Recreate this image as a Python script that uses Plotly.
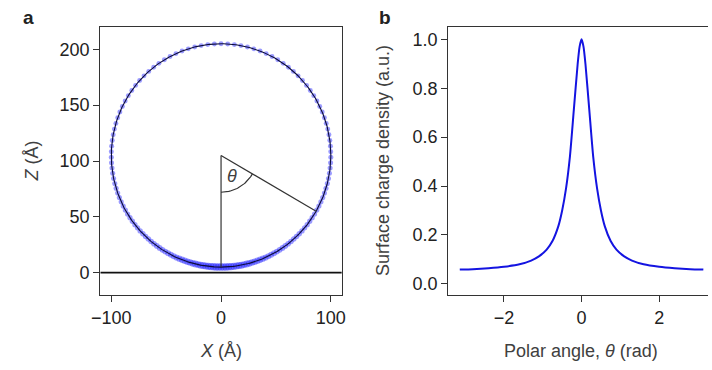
import numpy as np
import plotly.graph_objects as go

# ---------------- data ----------------
# Panel a: sphere geometry (Å)
sphere_center_x = 0.0
sphere_center_z = 105.0
sphere_radius = 100.0
n_nodes = 150                 # boundary mesh nodes
mesh_grading = 0.45           # node refinement towards the contact point
theta_example_deg = 60.0      # angle drawn in the sketch
arc_radius = 33.0

# Panel b: surface charge density vs polar angle
theta_rad = [-3.14, -2.8, -2.4, -2.0, -1.6, -1.3, -1.1, -0.9, -0.75, -0.6, -0.5,
             -0.4, -0.3, -0.2, -0.1, -0.05, 0.0,
             0.05, 0.1, 0.2, 0.3, 0.4, 0.5, 0.6, 0.75, 0.9, 1.1, 1.3, 1.6,
             2.0, 2.4, 2.8, 3.14]
charge_density = [0.058, 0.060, 0.064, 0.070, 0.080, 0.095, 0.112, 0.140, 0.175, 0.235, 0.300,
                  0.390, 0.520, 0.710, 0.900, 0.970, 1.000,
                  0.970, 0.900, 0.710, 0.520, 0.390, 0.300, 0.235, 0.175, 0.140, 0.112, 0.095, 0.080,
                  0.070, 0.064, 0.060, 0.058]

a_xticks = [-100, 0, 100]
a_yticks = [0, 50, 100, 150, 200]
b_xticks = [-2, 0, 2]
b_yticks = [0.0, 0.2, 0.4, 0.6, 0.8, 1.0]

# ---------------- geometry ----------------
u = np.linspace(-np.pi, np.pi, n_nodes, endpoint=False)
phi_nodes = u - mesh_grading * np.sin(u)          # angle from downward direction
node_x = sphere_center_x + sphere_radius * np.sin(phi_nodes)
node_z = sphere_center_z - sphere_radius * np.cos(phi_nodes)
node_density = np.interp(phi_nodes, theta_rad, charge_density)
node_size = 4.0 + 3.5 * np.sqrt(node_density)

phi_line = np.linspace(0, 2 * np.pi, 400)
circ_x = sphere_center_x + sphere_radius * np.sin(phi_line)
circ_z = sphere_center_z - sphere_radius * np.cos(phi_line)

th = np.deg2rad(theta_example_deg)
end_x = sphere_center_x + sphere_radius * np.sin(th)
end_z = sphere_center_z - sphere_radius * np.cos(th)
phi_arc = np.linspace(0, th, 40)
arc_x = sphere_center_x + arc_radius * np.sin(phi_arc)
arc_z = sphere_center_z - arc_radius * np.cos(phi_arc)

# ---------------- figure ----------------
FONT = "Liberation Sans, Arial, Helvetica, sans-serif"
AX = "#333333"
TICKC = "#222222"
TITLEC = "#404040"
BLUE = "rgb(20,20,225)"
FS = 18

fig = go.Figure()

# panel a
fig.add_trace(go.Scatter(x=[-110, 110], y=[0, 0], mode="lines",
                         line=dict(color="#111111", width=1.6),
                         xaxis="x", yaxis="y", showlegend=False, hoverinfo="skip"))
fig.add_trace(go.Scatter(x=node_x, y=node_z, mode="markers",
                         marker=dict(color="rgba(25,25,255,0.62)", size=node_size, line=dict(width=0)),
                         xaxis="x", yaxis="y", showlegend=False))
fig.add_trace(go.Scatter(x=circ_x, y=circ_z, mode="lines",
                         line=dict(color="#0c0c3a", width=1.1),
                         xaxis="x", yaxis="y", showlegend=False, hoverinfo="skip"))
fig.add_trace(go.Scatter(x=[sphere_center_x, sphere_center_x, None, sphere_center_x, end_x],
                         y=[sphere_center_z - sphere_radius, sphere_center_z, None, sphere_center_z, end_z],
                         mode="lines", line=dict(color=AX, width=1.2),
                         xaxis="x", yaxis="y", showlegend=False, hoverinfo="skip"))
fig.add_trace(go.Scatter(x=arc_x, y=arc_z, mode="lines", line=dict(color=AX, width=1.2),
                         xaxis="x", yaxis="y", showlegend=False, hoverinfo="skip"))

# panel b
fig.add_trace(go.Scatter(x=theta_rad, y=charge_density, mode="lines",
                         line=dict(color=BLUE, width=2, shape="spline", smoothing=0.6),
                         xaxis="x2", yaxis="y2", showlegend=False))

axis_common = dict(showgrid=False, zeroline=False, ticks="outside", ticklen=6,
                   tickwidth=1.2, tickcolor=AX, showline=True, linecolor=AX, linewidth=1.2,
                   tickfont=dict(family=FONT, size=FS, color=TICKC))


def ann(text, x, y, size=FS, color=TITLEC, angle=0, xref="paper", yref="paper"):
    return dict(text=text, x=x, y=y, xref=xref, yref=yref, showarrow=False,
                xanchor="center", yanchor="middle", textangle=angle,
                font=dict(family=FONT, size=size, color=color))


fig.update_layout(
    width=712, height=370,
    margin=dict(l=0, r=0, t=0, b=0),
    paper_bgcolor="white", plot_bgcolor="white",
    font=dict(family=FONT, size=FS, color=TICKC),
    xaxis=dict(domain=[93 / 712, 339 / 712], range=[-110, 110], tickvals=a_xticks,
               mirror=True, anchor="y", **axis_common),
    yaxis=dict(domain=[1 - 295 / 370, 1 - 27 / 370], range=[-20, 220], tickvals=a_yticks,
               mirror=True, anchor="x", **axis_common),
    xaxis2=dict(domain=[447.3 / 712, 1.0], range=[-3.44, 3.26], tickvals=b_xticks,
                mirror=True, anchor="y2", **axis_common),
    yaxis2=dict(domain=[1 - 295.3 / 370, 1 - 27.3 / 370], range=[-0.047, 1.049], tickvals=b_yticks,
                tickformat=".1f", mirror=False, anchor="x2", **axis_common),
    annotations=[
        ann("<b>a</b>", 20 / 712, 1 - 18 / 370, size=19, color="#222222"),
        ann("<b>b</b>", 383 / 712, 1 - 18 / 370, size=19, color="#222222"),
        ann("<i>X</i> (Å)", 216 / 712, 1 - 351 / 370),
        ann("<i>Z</i> (Å)", 23 / 712, 1 - 161 / 370, angle=-90),
        ann("Polar angle, <i>θ</i> (rad)", 583 / 712, 1 - 351 / 370),
        ann("Surface charge density (a.u.)", 381 / 712, 1 - 161 / 370, angle=-90),
        ann("<i>θ</i>", 10, 87, xref="x", yref="y"),
    ],
)

fig.write_html("out.html", config={"displayModeBar": False},
               post_script="document.body.style.margin='0';")
